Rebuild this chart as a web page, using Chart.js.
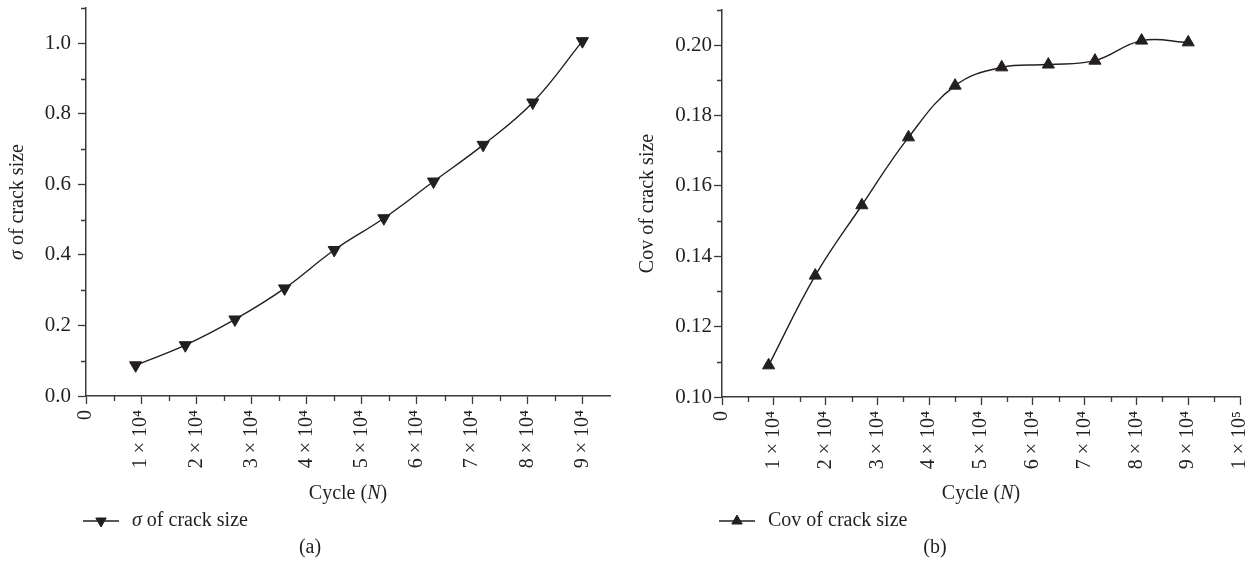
<!DOCTYPE html>
<html>
<head>
<meta charset="utf-8">
<script src="https://cdn.jsdelivr.net/npm/chart.js@4.4.1/dist/chart.umd.min.js"></script>
<style>
html,body{margin:0;padding:0;background:#ffffff;}
#wrap{position:relative;width:1255px;height:564px;overflow:hidden;}
#c1{position:absolute;left:0;top:0;}
#c2{position:absolute;left:628px;top:0;}
</style>
</head>
<body>
<div id="wrap">
<canvas id="c1" width="628" height="564"></canvas>
<canvas id="c2" width="627" height="564"></canvas>
</div>
<script>
// ---- data ----
const cycles = [9000, 18000, 27000, 36000, 45000, 54000, 63000, 72000, 81000, 90000];
const sigmaValues = [0.087, 0.144, 0.217, 0.305, 0.414, 0.504, 0.608, 0.712, 0.832, 1.006];
const covValues = [0.109, 0.1345, 0.1545, 0.1738, 0.1885, 0.1937, 0.1945, 0.1956, 0.2013, 0.2008];

const xTicksA = [0, 10000, 20000, 30000, 40000, 50000, 60000, 70000, 80000, 90000];
const xTickLabelsA = ['0', '1 × 10⁴', '2 × 10⁴', '3 × 10⁴', '4 × 10⁴', '5 × 10⁴', '6 × 10⁴', '7 × 10⁴', '8 × 10⁴', '9 × 10⁴'];
const xMinorA = [5000, 15000, 25000, 35000, 45000, 55000, 65000, 75000, 85000];
const yTicksA = [0, 0.2, 0.4, 0.6, 0.8, 1.0];
const yTickLabelsA = ['0.0', '0.2', '0.4', '0.6', '0.8', '1.0'];
const yMinorA = [0.1, 0.3, 0.5, 0.7, 0.9, 1.1];

const xTicksB = [0, 10000, 20000, 30000, 40000, 50000, 60000, 70000, 80000, 90000, 100000];
const xTickLabelsB = ['0', '1 × 10⁴', '2 × 10⁴', '3 × 10⁴', '4 × 10⁴', '5 × 10⁴', '6 × 10⁴', '7 × 10⁴', '8 × 10⁴', '9 × 10⁴', '1 × 10⁵'];
const xMinorB = [5000, 15000, 25000, 35000, 45000, 55000, 65000, 75000, 85000, 95000];
const yTicksB = [0.10, 0.12, 0.14, 0.16, 0.18, 0.20];
const yTickLabelsB = ['0.10', '0.12', '0.14', '0.16', '0.18', '0.20'];
const yMinorB = [0.11, 0.13, 0.15, 0.17, 0.19, 0.21];

const INK = '#231f20';
const AXIS = '#3a3a3a';
const FAMILY = '"Liberation Serif", "Times New Roman", serif';

function fontStr(size, italic) {
  return (italic ? 'italic ' : '') + size + 'px ' + FAMILY;
}

// draw a run of mixed regular/italic text centered at (0,0) in current transform
function drawRich(ctx, segs, size, align) {
  let total = 0;
  const widths = segs.map(s => { ctx.font = fontStr(size, s.i); const w = ctx.measureText(s.t).width; total += w; return w; });
  let x = align === 'left' ? 0 : -total / 2;
  ctx.textBaseline = 'middle';
  ctx.textAlign = 'left';
  segs.forEach((s, k) => {
    ctx.font = fontStr(size, s.i);
    ctx.fillText(s.t, x, 0);
    x += widths[k];
  });
}

function makeDecor(cfg) {
  return {
    id: 'decor',
    afterDraw(chart) {
      const ctx = chart.ctx;
      const xs = chart.scales.x, ys = chart.scales.y;
      const area = chart.chartArea;
      ctx.save();
      // minor ticks
      ctx.strokeStyle = AXIS;
      ctx.lineWidth = 1.3;
      ctx.beginPath();
      cfg.xMinor.forEach(v => {
        const px = Math.round(xs.getPixelForValue(v)) + 0.5;
        ctx.moveTo(px, area.bottom);
        ctx.lineTo(px, area.bottom + 5);
      });
      cfg.yMinor.forEach(v => {
        const py = Math.round(ys.getPixelForValue(v)) + 0.5;
        ctx.moveTo(area.left, py);
        ctx.lineTo(area.left - 5, py);
      });
      ctx.stroke();

      ctx.fillStyle = INK;
      // y title
      ctx.save();
      ctx.translate(cfg.yTitleX, (area.top + area.bottom) / 2);
      ctx.rotate(-Math.PI / 2);
      drawRich(ctx, cfg.yTitle, 20, 'center');
      ctx.restore();

      // x title
      ctx.save();
      ctx.translate((area.left + area.right) / 2, 494);
      drawRich(ctx, [{t: 'Cycle ('}, {t: 'N', i: true}, {t: ')'}], 20, 'center');
      ctx.restore();

      // legend
      const lx = area.left - 3, ly = 521;
      ctx.strokeStyle = INK;
      ctx.lineWidth = 1.4;
      ctx.beginPath();
      ctx.moveTo(lx, ly);
      ctx.lineTo(lx + 36, ly);
      ctx.stroke();
      ctx.fillStyle = INK;
      ctx.strokeStyle = INK;
      ctx.lineWidth = 1;
      Chart.helpers.drawPoint(ctx, {pointStyle: 'triangle', rotation: cfg.rotation, radius: 6, borderWidth: 1}, lx + 18, ly);
      ctx.save();
      ctx.translate(lx + 49, ly);
      drawRich(ctx, cfg.legend, 20, 'left');
      ctx.restore();

      // caption
      ctx.save();
      ctx.translate(cfg.captionX, 548);
      drawRich(ctx, [{t: cfg.caption}], 20, 'center');
      ctx.restore();

      ctx.restore();
    }
  };
}

function buildChart(el, o) {
  return new Chart(el, {
    type: 'line',
    data: {
      datasets: [{
        data: cycles.map((x, i) => ({x: x, y: o.values[i]})),
        borderColor: INK,
        borderWidth: 1.4,
        tension: 0.4,
        fill: false,
        clip: false,
        pointStyle: 'triangle',
        rotation: o.rotation,
        pointRadius: 7,
        pointBorderWidth: 1,
        pointBackgroundColor: INK,
        pointBorderColor: INK
      }]
    },
    options: {
      responsive: false,
      animation: false,
      events: [],
      layout: {padding: o.padding},
      plugins: {legend: {display: false}, tooltip: {enabled: false}, title: {display: false}},
      scales: {
        x: {
          type: 'linear',
          min: 0,
          max: o.xMax,
          afterBuildTicks: s => { s.ticks = o.xTicks.map(v => ({value: v})); },
          afterFit: s => { s.height = o.xHeight; s.paddingLeft = 0; s.paddingRight = 0; },
          ticks: {
            autoSkip: false,
            minRotation: 90,
            maxRotation: 90,
            padding: 6,
            color: INK,
            font: {family: FAMILY, size: 20},
            callback: v => o.xLabels[o.xTicks.indexOf(v)]
          },
          grid: {drawOnChartArea: false, drawTicks: true, tickLength: 8, tickColor: AXIS, tickWidth: 1.3},
          border: {display: true, color: AXIS, width: 1.5}
        },
        y: {
          type: 'linear',
          min: o.yMin,
          max: o.yMax,
          afterBuildTicks: s => { s.ticks = o.yTicks.map(v => ({value: v})); },
          afterFit: s => { s.width = o.yWidth; s.paddingTop = 0; s.paddingBottom = 0; },
          ticks: {
            autoSkip: false,
            padding: o.yPad,
            color: INK,
            font: {family: FAMILY, size: 21},
            callback: v => o.yLabels[o.yTicks.findIndex(t => Math.abs(t - v) < 1e-9)]
          },
          grid: {drawOnChartArea: false, drawTicks: true, tickLength: 8, tickColor: AXIS, tickWidth: 1.3},
          border: {display: true, color: AXIS, width: 1.5}
        }
      }
    },
    plugins: [makeDecor(o.decor)]
  });
}

buildChart(document.getElementById('c1'), {
  values: sigmaValues,
  rotation: 180,
  xMax: 95000, xTicks: xTicksA, xLabels: xTickLabelsA,
  yMin: 0, yMax: 1.1, yTicks: yTicksA, yLabels: yTickLabelsA, yPad: 7,
  padding: {left: 0, right: 18, top: 8, bottom: 0},
  xHeight: 168, yWidth: 86,
  decor: {
    xMinor: xMinorA, yMinor: yMinorA, rotation: 180,
    yTitleX: 18,
    yTitle: [{t: 'σ', i: true}, {t: ' of crack size'}],
    legend: [{t: 'σ', i: true}, {t: ' of crack size'}],
    caption: '(a)', captionX: 310
  }
});

buildChart(document.getElementById('c2'), {
  values: covValues,
  rotation: 0,
  xMax: 100000, xTicks: xTicksB, xLabels: xTickLabelsB,
  yMin: 0.10, yMax: 0.21, yTicks: yTicksB, yLabels: yTickLabelsB, yPad: 2,
  padding: {left: 0, right: 15, top: 10, bottom: 0},
  xHeight: 167, yWidth: 94,
  decor: {
    xMinor: xMinorB, yMinor: yMinorB, rotation: 0,
    yTitleX: 20,
    yTitle: [{t: 'Cov of crack size'}],
    legend: [{t: 'Cov of crack size'}],
    caption: '(b)', captionX: 307
  }
});
</script>
</body>
</html>
